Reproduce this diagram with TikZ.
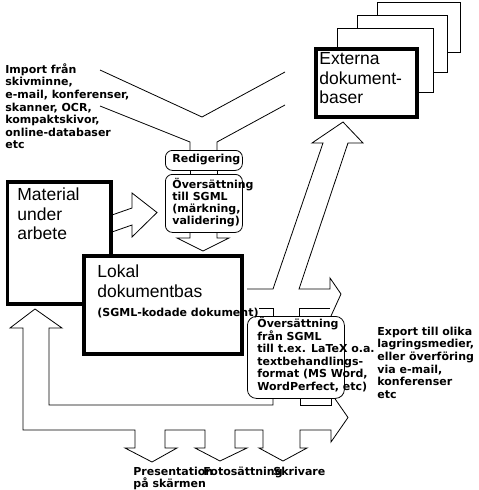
\documentclass[tikz,border=0pt]{standalone}
\usepackage{fontspec}
\setmainfont{Liberation Sans}
\newfontfamily\smallsans{DejaVu Sans}

\tikzset{
  heavybox/.style={draw,line width=3.5pt,fill=white,inner sep=0pt,anchor=north west},
  thinbox/.style={draw,line width=0.8pt,fill=white,inner sep=0pt,anchor=north west},
  roundbox/.style={thinbox,rounded corners=7pt},
  bigtext/.style={font=\fontsize{17.5}{19.5}\selectfont,align=left,anchor=north west,inner sep=0pt},
  smalltext/.style={font=\smallsans\bfseries\fontsize{11}{12.6}\selectfont,align=left,anchor=north west,inner sep=0pt},
  tighttext/.style={smalltext,font=\smallsans\bfseries\fontsize{11}{12}\selectfont}
}

\begin{document}
\begin{tikzpicture}[x=1pt,y=-1pt,line width=0.8pt]
  \useasboundingbox (0,0) rectangle (479,490);

  % import funnel
  \draw (100,70) -- (202,117) -- (285,72);
  \draw (100,106) -- (190,142) -- (190,150);
  \draw (285,105) -- (217,142) -- (217,150);

  % external databases, stacked
  \node[thinbox,minimum width=83pt,minimum height=50pt] (extback3) at (377,2) {};
  \node[thinbox,minimum width=90pt,minimum height=57pt] (extback2) at (357,15) {};
  \node[thinbox,minimum width=96pt,minimum height=64pt] (extback1) at (337,28) {};
  \node[heavybox,minimum width=101pt,minimum height=68pt] (externa) at (314,47) {};

  \node[heavybox,minimum width=103.5pt,minimum height=122pt] (material) at (5.5,180) {};
  \node[heavybox,minimum width=158pt,minimum height=98pt] (lokal) at (82,254) {};

  \node[roundbox,minimum width=77pt,minimum height=20pt] (redig) at (165,150) {};
  \node[roundbox,minimum width=77pt,minimum height=58pt] (oversin) at (165,174) {};
  \draw (190,170) -- (190,174);
  \draw (217,170) -- (217,174);

  % block arrows
  \draw (112,215) -- (132,208) -- (132,193) -- (157,212.5) -- (132,237) -- (132,225) -- (112,232);
  \draw (190,232) -- (190,238) -- (177,238) -- (203,251) -- (229,238) -- (217,238) -- (217,232);
  \draw (247,289) -- (273,289) -- (323,143) -- (312,143) -- (343,122) -- (363,143) -- (348,143)
    -- (299,289) -- (330,289) -- (330,278) -- (341,294) -- (331,316);
  \draw (259,308) -- (273,308) -- (273,316);
  \draw (299,316) -- (299,308) -- (330,308);
  \draw (273,398) -- (273,405) -- (49,405) -- (49,328) -- (62,328) -- (35,309) -- (10,328)
    -- (23,328) -- (23,430) -- (135,430) -- (135,448) -- (125,448) -- (152,462) -- (177,448)
    -- (165,448) -- (165,430) -- (205,430) -- (205,448) -- (195,448) -- (220,461) -- (247,448)
    -- (235,448) -- (235,430) -- (263,430) -- (263,448) -- (259,448) -- (283,461) -- (307,448)
    -- (300,448) -- (300,430) -- (331,430) -- (331,442) -- (348,417.5) -- (331,393);
  \draw (300,398) -- (300,405) -- (331,405) -- (331,398);

  \node[roundbox,rounded corners=9pt,minimum width=97pt,minimum height=82pt] (oversut) at (247,316) {};

  % texts
  \node[smalltext] (importtext) at (5,63.2)
    {Import från\\skivminne,\\e-mail, konferenser,\\skanner, OCR,\\kompaktskivor,\\online-databaser\\etc};
  \node[bigtext] (externatext) at (319,52.5) {Externa\\dokument-\\baser};
  \node[bigtext] (materialtext) at (17,187.5) {Material\\under\\arbete};
  \node[bigtext] (lokaltext) at (97,264.5) {Lokal\\dokumentbas};
  \node[smalltext] (lokalnote) at (97,307.6) {(SGML-kodade dokument)};
  \node[smalltext] (redigtext) at (172,153.6) {Redigering};
  \node[tighttext] (oversintext) at (172,177.8) {Översättning\\till SGML\\(märkning,\\validering)};
  \node[smalltext] (oversuttext) at (257,316.8)
    {Översättning\\från SGML\\till t.ex. LaTeX o.a.\\textbehandlings-\\format (MS Word,\\WordPerfect, etc)};
  \node[smalltext] (exporttext) at (377,326.6)
    {Export till olika\\lagringsmedier,\\eller överföring\\via e-mail,\\konferenser\\etc};
  \node[tighttext] (presentation) at (133,466.6) {Presentation\\på skärmen};
  \node[smalltext] (fotosattning) at (203,466.6) {Fotosättning};
  \node[smalltext] (skrivare) at (273,466.6) {Skrivare};
\end{tikzpicture}
\end{document}
